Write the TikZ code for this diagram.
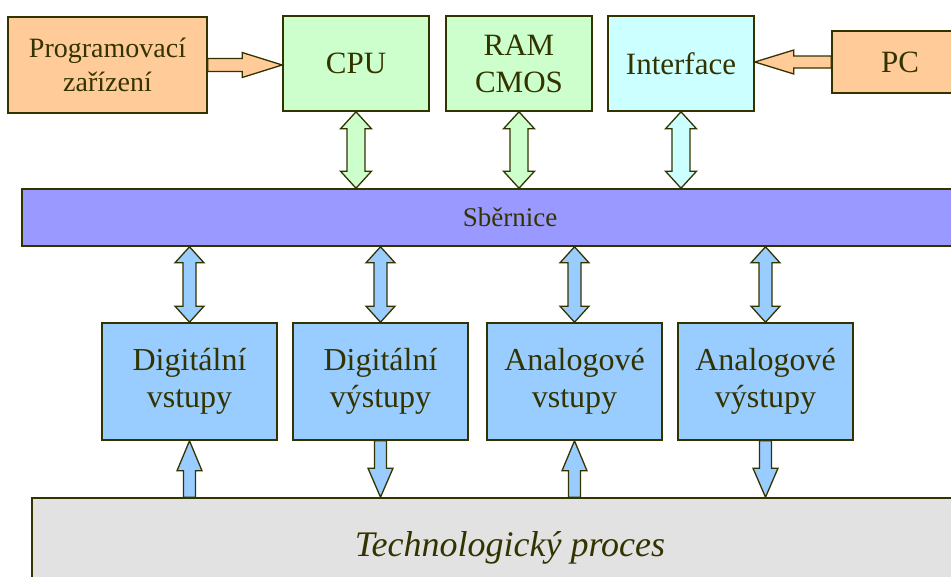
\documentclass[tikz,border=0pt]{standalone}
\usepackage{fontspec}
\setmainfont{Liberation Serif}
\usetikzlibrary{calc}

\definecolor{edge}{HTML}{333300}
\definecolor{orangebox}{HTML}{FFCC99}
\definecolor{greenbox}{HTML}{CCFFCC}
\definecolor{cyanbox}{HTML}{CCFFFF}
\definecolor{busblue}{HTML}{9999FF}
\definecolor{iobox}{HTML}{99CCFF}
\definecolor{procgray}{HTML}{E2E2E2}

% fat arrows: fill, from, to, shaft half width, head half width, head length
\newcommand\sglarrow[6]{%
  \coordinate (sa) at ($(#3)!#6!(#2)$);
  \filldraw[fatarrow, fill=#1] ($(#2)!#4!90:(#3)$) -- ($(sa)!#4!90:(#3)$)
    -- ($(sa)!#5!90:(#3)$) -- (#3) -- ($(sa)!#5!-90:(#3)$)
    -- ($(sa)!#4!-90:(#3)$) -- ($(#2)!#4!-90:(#3)$) -- cycle;}
\newcommand\dblarrow[6]{%
  \coordinate (da) at ($(#2)!#6!(#3)$);
  \coordinate (db) at ($(#3)!#6!(#2)$);
  \filldraw[fatarrow, fill=#1] (#2) -- ($(da)!#5!90:(#3)$) -- ($(da)!#4!90:(#3)$)
    -- ($(db)!#4!90:(#3)$) -- ($(db)!#5!90:(#3)$) -- (#3)
    -- ($(db)!#5!-90:(#3)$) -- ($(db)!#4!-90:(#3)$)
    -- ($(da)!#4!-90:(#3)$) -- ($(da)!#5!-90:(#3)$) -- cycle;}

\begin{document}
\begin{tikzpicture}[x=1pt, y=-1pt,
  every node/.style = {shape=rectangle, draw=edge, line width=1.6pt,
    align=center, inner sep=0pt, text=edge,
    font=\fontsize{31}{37}\selectfont},
  fatarrow/.style = {draw=edge, line width=1.3pt, line join=miter},
  unit/.style = {minimum width=146pt, minimum height=95pt},
  io/.style = {fill=iobox, minimum width=175pt, minimum height=117pt,
    font=\fontsize{32}{37}\selectfont}]
  \clip (0,0) rectangle (951,576);

  % top row
  \node[fill=orangebox, minimum width=199pt, minimum height=96pt,
    font=\fontsize{28}{34}\selectfont] (prog) at (107.5,65) {Programovací\\zařízení};
  \node[unit, fill=greenbox] (cpu) at (356,63.5) {CPU};
  \node[unit, fill=greenbox] (ram) at (519,63.5) {RAM\\CMOS};
  \node[unit, fill=cyanbox] (iface) at (681,63.5) {Interface};
  \node[fill=orangebox, minimum width=136pt, minimum height=62pt] (pc) at (900,62) {PC};

  % bus
  \node[fill=busblue, minimum width=976pt, minimum height=57pt,
    font=\fontsize{27}{32}\selectfont] (bus) at (510,217.5) {Sběrnice};

  % i/o modules
  \node[io] (din) at (189.5,381.5) {Digitální\\vstupy};
  \node[io] (dout) at (380.5,381.5) {Digitální\\výstupy};
  \node[io] (ain) at (574.5,381.5) {Analogové\\vstupy};
  \node[io] (aout) at (765.5,381.5) {Analogové\\výstupy};

  % process
  \node[fill=procgray, minimum width=956pt, minimum height=100pt,
    font=\fontsize{36}{42}\selectfont\itshape] (proc) at (510,548) {Technologický proces};

  % connectors
  \coordinate (progin) at (prog.east -| cpu.west);
  \coordinate (pcin) at (pc.west -| iface.east);
  \sglarrow{orangebox}{prog.east}{progin}{6.5pt}{12.5pt}{40pt}
  \sglarrow{orangebox}{pc.west}{pcin}{6pt}{12pt}{39pt}

  \foreach \u/\c in {cpu/greenbox, ram/greenbox, iface/cyanbox} {
    \coordinate (\u bus) at (\u.south |- bus.north);
    \dblarrow{\c}{\u.south}{\u bus}{9pt}{15.5pt}{17pt}
  }
  \foreach \m in {din, dout, ain, aout} {
    \coordinate (bus\m) at (bus.south -| \m.north);
    \dblarrow{iobox}{bus\m}{\m.north}{6.5pt}{14.5pt}{16pt}
    \coordinate (proc\m) at (\m.south |- proc.north);
  }
  \sglarrow{iobox}{procdin}{din.south}{6pt}{12.5pt}{30pt}
  \sglarrow{iobox}{dout.south}{procdout}{6pt}{12.5pt}{29pt}
  \sglarrow{iobox}{procain}{ain.south}{6pt}{12.5pt}{30pt}
  \sglarrow{iobox}{aout.south}{procaout}{6pt}{12.5pt}{29pt}
\end{tikzpicture}
\end{document}
